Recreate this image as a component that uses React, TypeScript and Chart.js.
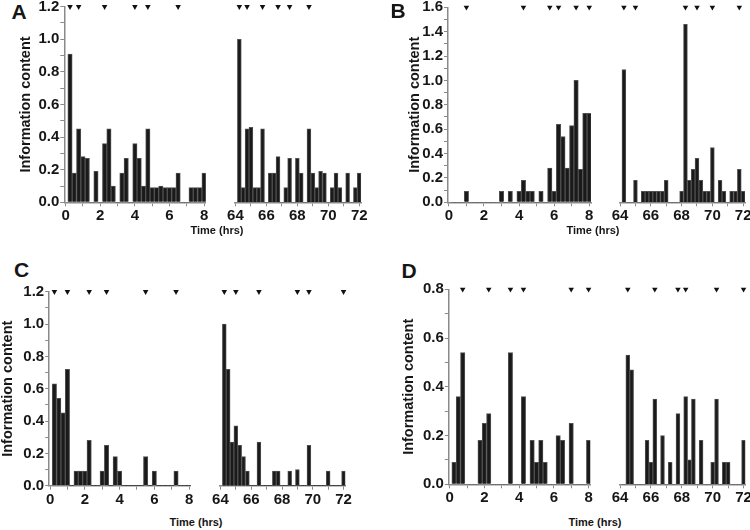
import React, { useEffect, useRef } from 'react';
import { Chart, registerables } from 'chart.js';

Chart.register(...registerables);

const FONT = '"Liberation Sans", Arial, Helvetica, sans-serif';

// time bins (hours), 15-minute resolution
const EARLY_BINS = [0.25, 0.5, 0.75, 1.0, 1.25, 1.5, 1.75, 2.0, 2.25, 2.5, 2.75, 3.0, 3.25, 3.5, 3.75, 4.0,
  4.25, 4.5, 4.75, 5.0, 5.25, 5.5, 5.75, 6.0, 6.25, 6.5, 6.75, 7.0, 7.25, 7.5, 7.75, 8.0];
const LATE_BINS = [64.25, 64.5, 64.75, 65.0, 65.25, 65.5, 65.75, 66.0, 66.25, 66.5, 66.75, 67.0, 67.25, 67.5, 67.75, 68.0,
  68.25, 68.5, 68.75, 69.0, 69.25, 69.5, 69.75, 70.0, 70.25, 70.5, 70.75, 71.0, 71.25, 71.5, 71.75, 72.0];

// axis ticks
const EARLY_TICKS = [0, 1, 2, 3, 4, 5, 6, 7, 8];
const EARLY_LABELS = [0, 2, 4, 6, 8];
const LATE_TICKS = [64, 65, 66, 67, 68, 69, 70, 71, 72];
const LATE_LABELS = [64, 66, 68, 70, 72];
const Y_TICKS_12 = [0, 0.1, 0.2, 0.3, 0.4, 0.5, 0.6, 0.7, 0.8, 0.9, 1.0, 1.1, 1.2];
const Y_LABELS_12 = [0, 0.2, 0.4, 0.6, 0.8, 1.0, 1.2];
const Y_TICKS_16 = [0, 0.1, 0.2, 0.3, 0.4, 0.5, 0.6, 0.7, 0.8, 0.9, 1.0, 1.1, 1.2, 1.3, 1.4, 1.5, 1.6];
const Y_LABELS_16 = [0, 0.2, 0.4, 0.6, 0.8, 1.0, 1.2, 1.4, 1.6];
const Y_TICKS_08 = [0, 0.1, 0.2, 0.3, 0.4, 0.5, 0.6, 0.7, 0.8];
const Y_LABELS_08 = [0, 0.2, 0.4, 0.6, 0.8];

// Panel A
const A_EARLY = [0.91, 0.18, 0.45, 0.28, 0.27, 0, 0.19, 0, 0.36, 0.45, 0.10, 0, 0.18, 0.27, 0, 0.36,
  0.27, 0.10, 0.45, 0.09, 0.09, 0.10, 0.09, 0.09, 0.09, 0.18, 0, 0, 0.09, 0.09, 0.09, 0.18];
const A_LATE = [1.0, 0.09, 0.45, 0.46, 0.09, 0.09, 0.45, 0, 0.18, 0.18, 0.28, 0, 0.09, 0.27, 0, 0.27,
  0.18, 0, 0.45, 0.18, 0.09, 0.19, 0.18, 0, 0.09, 0.18, 0.09, 0, 0.18, 0, 0.09, 0.18];
const A_MARK_EARLY = [0.25, 0.75, 2.25, 4.0, 4.75, 6.5];
const A_MARK_LATE = [64.25, 64.75, 65.75, 66.75, 67.5, 68.75];

// Panel B
const B_EARLY = [0, 0, 0, 0.09, 0, 0, 0, 0, 0, 0, 0, 0.09, 0, 0.09, 0, 0.09,
  0.18, 0.09, 0.09, 0, 0.09, 0, 0.28, 0.09, 0.64, 0.54, 0.28, 0.63, 1.0, 0.27, 0.73, 0.73];
const B_LATE = [1.09, 0, 0, 0.18, 0, 0.09, 0.09, 0.09, 0.09, 0.09, 0.09, 0.18, 0, 0, 0, 0.09,
  1.46, 0.18, 0.27, 0.36, 0.18, 0.09, 0.09, 0.45, 0, 0.18, 0.09, 0, 0.09, 0.09, 0.27, 0.09];
const B_MARK_EARLY = [1.0, 4.25, 5.75, 6.25, 7.25, 8.0];
const B_MARK_LATE = [64.25, 65.0, 68.25, 69.0, 70.0, 71.75];

// Panel C
const C_EARLY = [0.63, 0.54, 0.45, 0.72, 0, 0.09, 0.09, 0.09, 0.28, 0, 0, 0.09, 0.25, 0, 0.18, 0.09,
  0, 0, 0, 0, 0, 0.18, 0, 0.09, 0, 0, 0, 0, 0.09, 0, 0, 0];
const C_LATE = [1.0, 0.72, 0.27, 0.37, 0.25, 0.18, 0.09, 0, 0, 0.27, 0, 0, 0, 0.09, 0.09, 0,
  0, 0.09, 0, 0.10, 0, 0, 0.25, 0, 0, 0, 0, 0.09, 0, 0, 0, 0.09];
const C_MARK_EARLY = [0.25, 1.0, 2.25, 3.25, 5.5, 7.25];
const C_MARK_LATE = [64.25, 65.0, 66.5, 69.0, 69.75, 72.0];

// Panel D
const D_EARLY = [0.09, 0.36, 0.54, 0, 0, 0, 0.18, 0.25, 0.29, 0, 0, 0, 0, 0.54, 0, 0,
  0.36, 0, 0.18, 0.09, 0.18, 0.09, 0, 0, 0.20, 0.18, 0, 0.25, 0, 0, 0, 0.18];
const D_LATE = [0, 0.53, 0.47, 0, 0, 0, 0.18, 0.09, 0.35, 0, 0.20, 0, 0.09, 0, 0.29, 0,
  0.36, 0.10, 0.35, 0, 0.18, 0, 0, 0.09, 0.35, 0, 0.09, 0.09, 0, 0, 0, 0.18];
const D_MARK_EARLY = [0.75, 2.25, 3.5, 4.25, 7.0, 8.0];
const D_MARK_LATE = [64.5, 66.25, 67.75, 68.25, 70.25, 72.0];

const AXIS_COLOR = '#8a8a8a';
const TEXT_COLOR = '#161616';
const BAR_COLOR = '#1a1a1a';
const BAR_EDGE = '#505050';

const isIn = (list: number[], v: number) => list.some((m) => Math.abs(m - v) < 1e-6);

type SegProps = {
  panelLeft: number;
  l: number; r: number; t: number; b: number;
  xMin: number; xMax: number; yMax: number;
  bins: number[]; values: number[]; marks: number[];
  xTicks: number[]; xLabels: number[];
  yTicks: number[]; yLabels: number[];
  showY: boolean; titleCenter?: number;
};

function Segment(p: SegProps) {
  const ref = useRef<HTMLCanvasElement | null>(null);
  const L = p.showY ? p.panelLeft : Math.floor(p.l - 16);
  const T = Math.floor(p.t - 12);
  const W = Math.ceil(p.r + 14 - L);
  const H = Math.ceil(p.b + 30 - T);
  const padLeft = p.showY ? 0 : p.l - L;
  const padTop = p.t - T;
  const padRight = W - (p.r - L);
  const yWidth = p.l - L;
  const xHeight = H - (p.b - T);

  useEffect(() => {
    if (!ref.current) return;
    const tickFont = { family: FONT, size: 15, weight: 'bold' as const };
    const chart = new Chart(ref.current, {
      type: 'bar',
      data: {
        datasets: [
          {
            type: 'bar',
            data: p.bins.map((x, i) => ({ x, y: p.values[i] })),
            backgroundColor: BAR_COLOR,
            borderColor: BAR_EDGE,
            borderWidth: (ctx: any) => (ctx.raw && ctx.raw.y > 0 ? 1 : 0),
            borderSkipped: 'start',
            barPercentage: 1,
            categoryPercentage: 1,
          } as any,
          {
            type: 'scatter',
            data: p.marks.map((x) => ({ x, y: p.yMax })),
            pointStyle: 'triangle',
            rotation: 180,
            radius: 3.2,
            backgroundColor: '#111',
            borderColor: '#111',
            borderWidth: 0,
            clip: false,
          } as any,
        ],
      },
      options: {
        animation: false,
        responsive: false,
        events: [],
        layout: { padding: { left: padLeft, right: padRight, top: padTop, bottom: 0 } },
        plugins: { legend: { display: false }, tooltip: { enabled: false } },
        scales: {
          x: {
            type: 'linear',
            min: p.xMin,
            max: p.xMax,
            offset: false,
            afterBuildTicks: (scale: any) => { scale.ticks = p.xTicks.map((v) => ({ value: v })); },
            afterFit: (scale: any) => { scale.height = xHeight; },
            ticks: {
              autoSkip: false, maxRotation: 0, minRotation: 0, padding: 1,
              color: TEXT_COLOR, font: tickFont,
              callback: (v: any) => (isIn(p.xLabels, Number(v)) ? String(v) : ''),
            },
            grid: { display: true, drawOnChartArea: false, drawTicks: true, tickLength: 4, color: AXIS_COLOR, offset: false },
            border: { display: true, color: AXIS_COLOR, width: 1.5 },
          },
          y: {
            type: 'linear',
            display: p.showY,
            min: 0,
            max: p.yMax,
            afterBuildTicks: (scale: any) => { scale.ticks = p.yTicks.map((v) => ({ value: v })); },
            afterFit: (scale: any) => { scale.width = yWidth; },
            ticks: {
              autoSkip: false, padding: 1, color: TEXT_COLOR, font: tickFont,
              callback: (v: any) => (isIn(p.yLabels, Number(v)) ? Number(v).toFixed(1) : ''),
            },
            grid: { display: true, drawOnChartArea: false, drawTicks: true, tickLength: 4, color: AXIS_COLOR },
            border: { display: true, color: AXIS_COLOR, width: 1.5 },
            title: {
              display: p.showY,
              text: 'Information content',
              color: TEXT_COLOR,
              font: { family: FONT, size: 14.5, weight: 'bold', lineHeight: 1 },
              padding: { top: Math.max(0, (p.titleCenter ?? 0) - p.panelLeft - 7.25), bottom: 0 },
            },
          },
        },
      } as any,
    });
    return () => chart.destroy();
  }, []);

  return (
    <canvas
      ref={ref}
      width={W}
      height={H}
      style={{ position: 'absolute', left: L, top: T, width: W, height: H }}
    />
  );
}

type PanelProps = {
  letter: string; letterX: number; letterY: number;
  panelLeft: number; t: number; b: number; yMax: number;
  yTicks: number[]; yLabels: number[];
  e: { l: number; r: number; min: number; max: number };
  lt: { l: number; r: number; min: number; max: number };
  early: number[]; late: number[]; markEarly: number[]; markLate: number[];
  titleCenter: number; timeX: number; timeY: number;
};

function Panel(p: PanelProps) {
  return (
    <>
      <div style={{ position: 'absolute', left: p.letterX, top: p.letterY, fontFamily: FONT, fontWeight: 'bold', fontSize: 21, lineHeight: '21px', color: TEXT_COLOR }}>
        {p.letter}
      </div>
      <Segment panelLeft={p.panelLeft} l={p.e.l} r={p.e.r} t={p.t} b={p.b} xMin={p.e.min} xMax={p.e.max} yMax={p.yMax}
        bins={EARLY_BINS} values={p.early} marks={p.markEarly} xTicks={EARLY_TICKS} xLabels={EARLY_LABELS}
        yTicks={p.yTicks} yLabels={p.yLabels} showY={true} titleCenter={p.titleCenter} />
      <Segment panelLeft={p.panelLeft} l={p.lt.l} r={p.lt.r} t={p.t} b={p.b} xMin={p.lt.min} xMax={p.lt.max} yMax={p.yMax}
        bins={LATE_BINS} values={p.late} marks={p.markLate} xTicks={LATE_TICKS} xLabels={LATE_LABELS}
        yTicks={p.yTicks} yLabels={p.yLabels} showY={false} />
      <div style={{ position: 'absolute', left: p.timeX - 50, top: p.timeY - 5.5, width: 100, textAlign: 'center', fontFamily: FONT, fontWeight: 'bold', fontSize: 11, lineHeight: '11px', color: TEXT_COLOR }}>
        Time (hrs)
      </div>
    </>
  );
}

export default function App() {
  return (
    <div style={{ position: 'absolute', left: 0, top: 0, width: 750, height: 530, background: '#fff', overflow: 'hidden' }}>
      <Panel letter="A" letterX={11.5} letterY={0.6} panelLeft={0} t={6.7} b={202.3} yMax={1.2}
        yTicks={Y_TICKS_12} yLabels={Y_LABELS_12}
        e={{ l: 64.3, r: 205.8, min: -0.08, max: 8.1 }} lt={{ l: 219, r: 361.1, min: 63.97, max: 72.12 }}
        early={A_EARLY} late={A_LATE} markEarly={A_MARK_EARLY} markLate={A_MARK_LATE}
        titleCenter={26} timeX={217} timeY={230.5} />
      <Panel letter="B" letterX={390.5} letterY={0.3} panelLeft={375} t={7.3} b={202.3} yMax={1.6}
        yTicks={Y_TICKS_16} yLabels={Y_LABELS_16}
        e={{ l: 448, r: 591, min: -0.05, max: 8.1 }} lt={{ l: 602.8, r: 745, min: 63.97, max: 72.12 }}
        early={B_EARLY} late={B_LATE} markEarly={B_MARK_EARLY} markLate={B_MARK_LATE}
        titleCenter={415} timeX={593} timeY={230.5} />
      <Panel letter="C" letterX={14} letterY={259.3} panelLeft={0} t={291.7} b={485.7} yMax={1.2}
        yTicks={Y_TICKS_12} yLabels={Y_LABELS_12}
        e={{ l: 49.2, r: 190.8, min: -0.05, max: 8.1 }} lt={{ l: 203.5, r: 345.4, min: 63.97, max: 72.12 }}
        early={C_EARLY} late={C_LATE} markEarly={C_MARK_EARLY} markLate={C_MARK_LATE}
        titleCenter={7.5} timeX={196} timeY={522} />
      <Panel letter="D" letterX={401.5} letterY={260.3} panelLeft={375} t={289.3} b={484.3} yMax={0.8}
        yTicks={Y_TICKS_08} yLabels={Y_LABELS_08}
        e={{ l: 448.8, r: 590.3, min: -0.05, max: 8.1 }} lt={{ l: 602.8, r: 745.4, min: 63.97, max: 72.12 }}
        early={D_EARLY} late={D_LATE} markEarly={D_MARK_EARLY} markLate={D_MARK_LATE}
        titleCenter={408.5} timeX={595} timeY={522} />
    </div>
  );
}
